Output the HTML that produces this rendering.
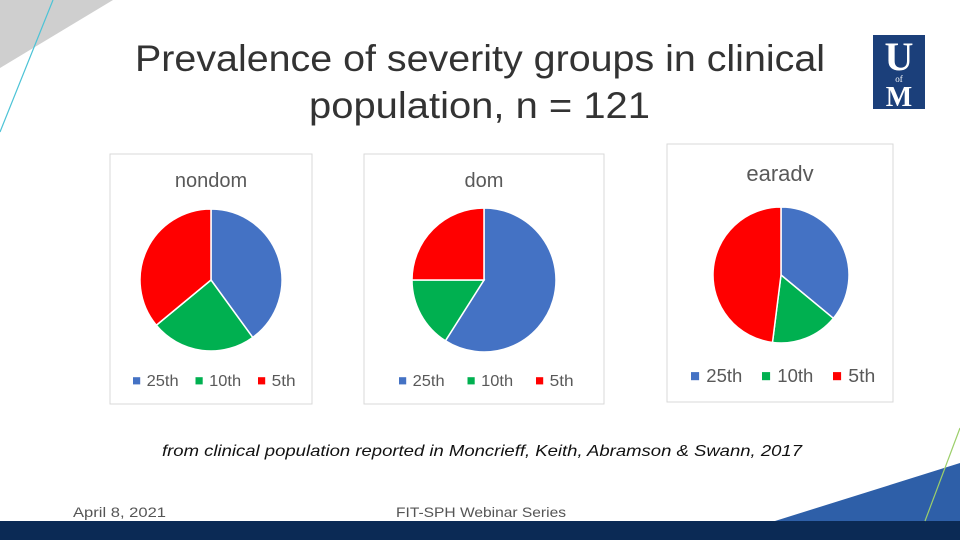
<!DOCTYPE html>
<html><head><meta charset="utf-8"><style>
body{margin:0;width:960px;height:540px;overflow:hidden;background:#fff;font-family:"Liberation Sans","DejaVu Sans",sans-serif;}
</style></head><body>
<svg width="960" height="540" viewBox="0 0 960 540">
<polygon points="0,0 113,0 0,68" fill="#cfcfcf"/>
<line x1="53" y1="0" x2="0" y2="132" stroke="#4cc3d6" stroke-width="1.2"/>
<polygon points="775,521 960,463 960,521" fill="#2e5fa8"/>
<rect x="0" y="521" width="960" height="19" fill="#0b2a55"/>
<line x1="925" y1="521" x2="960" y2="428" stroke="#9ccf6a" stroke-width="1.2"/>
<g>
<rect x="873" y="35" width="52" height="74" fill="#1b3f7a"/>
<text x="899" y="70" text-anchor="middle" font-family="Liberation Serif,serif" font-weight="bold" font-size="40" fill="#fff">U</text>
<text x="899" y="82" text-anchor="middle" font-family="Liberation Serif,serif" font-size="9" fill="#fff">of</text>
<text x="899" y="106" text-anchor="middle" font-family="Liberation Serif,serif" font-weight="bold" font-size="28" fill="#fff">M</text>
</g>
<text x="135" y="71" textLength="690" lengthAdjust="spacingAndGlyphs" font-size="37" fill="#333">Prevalence of severity groups in clinical</text>
<text x="309" y="118" textLength="341" lengthAdjust="spacingAndGlyphs" font-size="37" fill="#333">population, n = 121</text>
<g id="charts"></g>
<text x="162" y="456" textLength="640" lengthAdjust="spacingAndGlyphs" font-size="16" font-style="italic" fill="#111">from clinical population reported in Moncrieff, Keith, Abramson &amp; Swann, 2017</text>
<text x="73" y="517" textLength="93" lengthAdjust="spacingAndGlyphs" font-size="14" fill="#555">April 8, 2021</text>
<text x="396" y="517" textLength="170" lengthAdjust="spacingAndGlyphs" font-size="14" fill="#555">FIT-SPH Webinar Series</text>
</svg>
<script>
const chartTitles=["nondom","dom","earadv"];
const categories=["25th","10th","5th"];
const nondomValues=[0.40,0.24,0.36];
const domValues=[0.59,0.16,0.25];
const earadvValues=[0.36,0.16,0.48];
const colors=["#4472c4","#00b050","#ff0000"];
const allValues=[nondomValues,domValues,earadvValues];
const layout=[
 {x:110,y:154,w:202,h:250,cx:211,cy:280,r:71,ty:187,ly:386,fs:20,lfs:16,lx:133,sp:62.5},
 {x:364,y:154,w:240,h:250,cx:484,cy:280,r:72,ty:187,ly:386,fs:20,lfs:16,lx:399,sp:68.5},
 {x:667,y:144,w:226,h:258,cx:781,cy:275,r:68,ty:181,ly:382,fs:22,lfs:18,lx:691,sp:71}
];
const NS="http://www.w3.org/2000/svg";
const g=document.getElementById('charts');
function mk(t,a){const e=document.createElementNS(NS,t);for(const k in a)e.setAttribute(k,a[k]);return e;}
layout.forEach((L,i)=>{
 const grp=mk('g',{});
 
 
 const box=mk('rect',{x:L.x,y:L.y,width:L.w,height:L.h,fill:'#fff',stroke:'#d9d9d9'});
 
 
 grp.appendChild(box);
 const t=mk('text',{x:L.x+L.w/2,y:L.ty,'text-anchor':'middle','font-size':L.fs,fill:'#595959'});
 t.textContent=chartTitles[i];
 
 
 grp.appendChild(t);
 const vals=allValues[i];const tot=vals.reduce((a,b)=>a+b,0);
 let a0=0;
 vals.forEach((v,j)=>{
  const a1=a0+v/tot*2*Math.PI;
  const x0=L.cx+L.r*Math.sin(a0),y0=L.cy-L.r*Math.cos(a0);
  const x1=L.cx+L.r*Math.sin(a1),y1=L.cy-L.r*Math.cos(a1);
  const large=(a1-a0)>Math.PI?1:0;
  const p=mk('path',{d:`M${L.cx},${L.cy}L${x0},${y0}A${L.r},${L.r} 0 ${large} 1 ${x1},${y1}Z`,fill:colors[j],stroke:'#fff','stroke-width':1.5});
  
  
  grp.appendChild(p);
  a0=a1;
 });
 categories.forEach((c,j)=>{
  const lx=L.lx+j*L.sp;
  const sq=mk('rect',{x:lx,y:L.ly-L.lfs*0.55,width:L.lfs*0.45,height:L.lfs*0.45,fill:colors[j]});
  
  
  grp.appendChild(sq);
  const lt=mk('text',{x:lx+L.lfs*0.85,y:L.ly,'font-size':L.lfs,fill:'#595959',textLength:c.length*L.lfs*0.5,lengthAdjust:'spacingAndGlyphs'});
  lt.textContent=c;
  
  
  grp.appendChild(lt);
 });
 g.appendChild(grp);
});
</script>
</body></html>
